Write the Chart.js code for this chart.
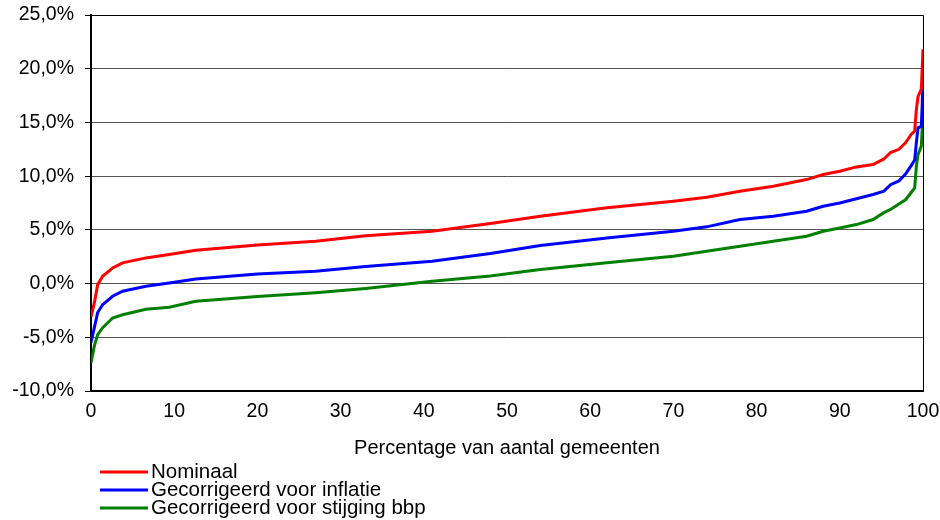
<!DOCTYPE html>
<html>
<head>
<meta charset="utf-8">
<script src="https://cdn.jsdelivr.net/npm/chart.js@4/dist/chart.umd.min.js"></script>
<style>
  html, body { margin: 0; padding: 0; background: #fff; }
  #wrap { width: 940px; height: 520px; }
</style>
</head>
<body>
<div id="wrap"><canvas id="c" width="940" height="520"></canvas></div>
<script>
// Percentage van aantal gemeenten (gesorteerd)
const pctGemeenten = [0, 0.4, 0.8, 1.4, 2.6, 3.8, 6.6, 9.4, 12.6, 20, 27, 33, 41, 48, 54, 62, 70, 74, 78, 82, 86, 88, 90, 92, 94, 95.3, 96.1, 97.1, 97.9, 98.6, 99, 99.2, 99.4, 99.8, 100];

// Groei per gemeente, in procenten
const nominaal = [-3.1, -1.8, -0.1, 0.68, 1.46, 1.93, 2.39, 2.7, 3.1, 3.6, 3.94, 4.45, 4.87, 5.6, 6.27, 7.05, 7.67, 8.04, 8.6, 9.06, 9.68, 10.15, 10.46, 10.86, 11.08, 11.6, 12.2, 12.5, 13.1, 13.9, 14.2, 16.2, 17.4, 18.1, 21.8];
const voorInflatie = [-5.5, -4.1, -2.7, -1.96, -1.18, -0.71, -0.25, 0.06, 0.43, 0.9, 1.15, 1.6, 2.08, 2.8, 3.54, 4.25, 4.87, 5.28, 5.96, 6.27, 6.73, 7.2, 7.5, 7.9, 8.29, 8.6, 9.2, 9.55, 10.2, 11.0, 11.5, 13.1, 14.5, 14.65, 18.5];
const voorBbp = [-7.4, -5.8, -4.75, -4.1, -3.2, -2.9, -2.4, -2.2, -1.65, -1.2, -0.85, -0.45, 0.22, 0.7, 1.3, 1.93, 2.54, 3.0, 3.47, 3.94, 4.4, 4.87, 5.18, 5.49, 5.96, 6.6, 6.9, 7.4, 7.8, 8.5, 8.9, 10.9, 12.0, 12.8, 15.9];

const seriesNames = ['Nominaal', 'Gecorrigeerd voor inflatie', 'Gecorrigeerd voor stijging bbp'];
const seriesColors = ['#ff0000', '#0000ff', '#008000'];
const seriesValues = [nominaal, voorInflatie, voorBbp];

const xTitle = 'Percentage van aantal gemeenten';

const FONT = '"Liberation Sans", Arial, sans-serif';

// Frame around the plot area (top and right edges)
const frame = {
  id: 'frame',
  afterDatasetsDraw(chart) {
    const { ctx, chartArea: a } = chart;
    ctx.save();
    ctx.strokeStyle = '#000';
    ctx.lineWidth = 1;
    ctx.beginPath();
    ctx.moveTo(a.left, a.top + 0.5);
    ctx.lineTo(a.right + 0.5, a.top + 0.5);
    ctx.lineTo(a.right + 0.5, a.bottom);
    ctx.stroke();
    ctx.restore();
  }
};

// Stacked legend under the axis title
const stackedLegend = {
  id: 'stackedLegend',
  afterDraw(chart) {
    const { ctx } = chart;
    ctx.save();
    ctx.font = '20.5px ' + FONT;
    ctx.textBaseline = 'middle';
    ctx.textAlign = 'left';
    chart.data.datasets.forEach((ds, i) => {
      const y = 472 + i * 18;
      ctx.strokeStyle = ds.borderColor;
      ctx.lineWidth = 3;
      ctx.beginPath();
      ctx.moveTo(100, y);
      ctx.lineTo(148, y);
      ctx.stroke();
      ctx.fillStyle = '#000';
      ctx.fillText(ds.label, 151, y);
    });
    ctx.restore();
  }
};

new Chart(document.getElementById('c'), {
  type: 'line',
  data: {
    datasets: seriesNames.map((name, i) => ({
      label: name,
      data: pctGemeenten.map((x, j) => ({ x, y: seriesValues[i][j] })),
      borderColor: seriesColors[i],
      backgroundColor: seriesColors[i],
      borderWidth: 3,
      pointRadius: 0,
      tension: 0,
      fill: false
    }))
  },
  options: {
    responsive: false,
    animation: false,
    layout: { padding: { top: 15, right: 17, left: 0, bottom: 60 } },
    plugins: {
      legend: { display: false },
      tooltip: { enabled: false }
    },
    scales: {
      x: {
        type: 'linear',
        min: 0,
        max: 100,
        ticks: {
          stepSize: 10,
          color: '#000',
          font: { family: FONT, size: 19.5 },
          padding: 9,
          maxRotation: 0
        },
        grid: { display: false, drawTicks: false },
        border: { display: true, color: '#000', width: 2 },
        title: {
          display: true,
          text: xTitle,
          color: '#000',
          font: { family: FONT, size: 20 },
          padding: { top: 0, bottom: 0 }
        },
        afterFit(s) { s.height = 69; s.paddingLeft = 0; s.paddingRight = 0; }
      },
      y: {
        min: -10,
        max: 25,
        ticks: {
          stepSize: 5,
          color: '#000',
          font: { family: FONT, size: 19.5 },
          padding: 11,
          callback: v => v.toFixed(1).replace('.', ',') + '%'
        },
        grid: {
          color: '#555',
          lineWidth: 1,
          drawTicks: true,
          tickLength: 6,
          tickColor: '#000'
        },
        border: { display: true, color: '#000', width: 2 },
        afterFit(s) { s.width = 91; s.paddingTop = 0; s.paddingBottom = 0; }
      }
    }
  },
  plugins: [frame, stackedLegend]
});
</script>
</body>
</html>
